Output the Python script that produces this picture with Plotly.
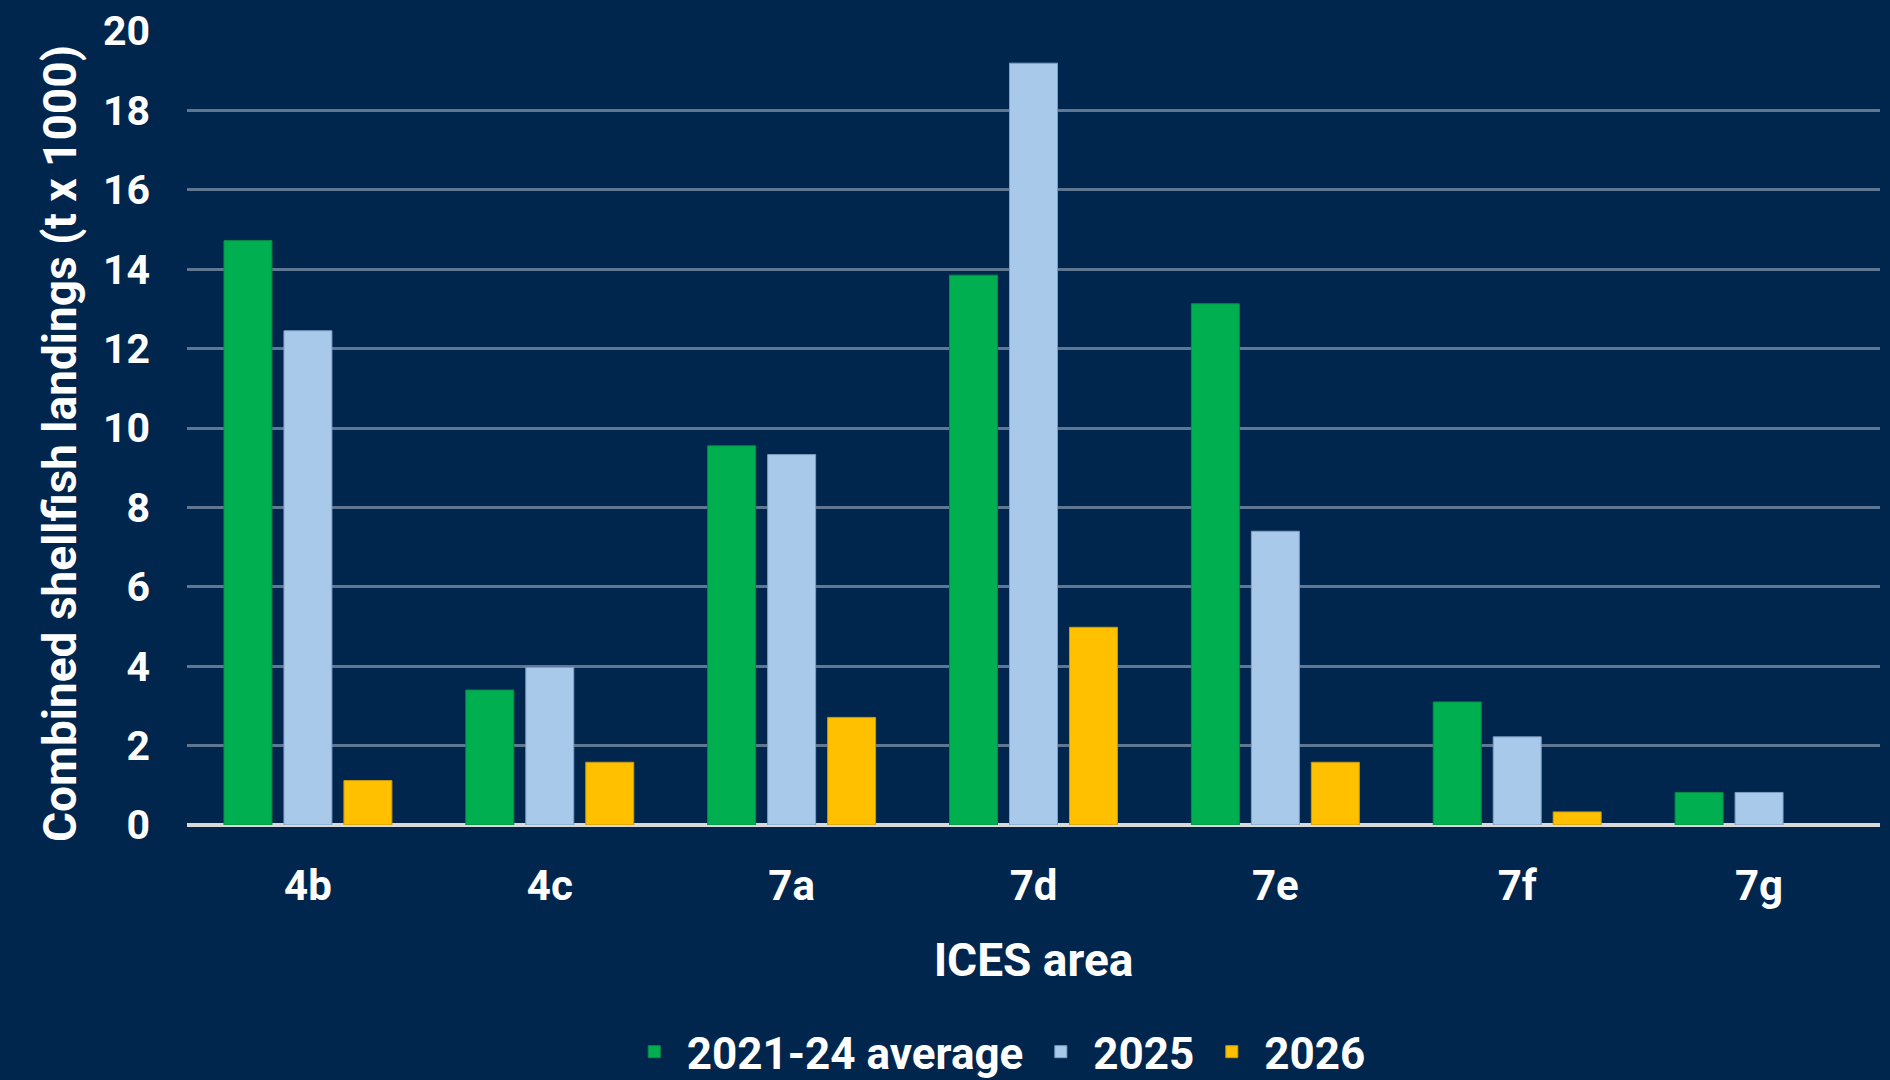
import plotly.graph_objects as go

categories = ["4b", "4c", "7a", "7d", "7e", "7f", "7g"]
avg_2021_24 = [14.72, 3.40, 9.55, 13.85, 13.13, 3.10, 0.82]
y2025 = [12.45, 3.97, 9.33, 19.19, 7.40, 2.22, 0.82]
y2026 = [1.12, 1.58, 2.71, 4.98, 1.58, 0.33, 0]
series_names = ["2021-24 average", "2025", "2026"]
y_ticks = [0, 2, 4, 6, 8, 10, 12, 14, 16, 18, 20]

BG = "#00264D"
FONT = "Roboto"
colors = ["#00B050", "#A9C9EB", "#FFC000"]
borders = ["#0A8A45", "#7F9EC2", "#C99A10"]

fig = go.Figure()
for name, vals, c, b in zip(series_names, [avg_2021_24, y2025, y2026], colors, borders):
    fig.add_trace(go.Bar(
        x=categories, y=vals, name=name,
        marker=dict(color=c, line=dict(color=b, width=[1 if v > 0 else 0 for v in vals])),
    ))

fig.update_layout(
    width=1890, height=1080,
    paper_bgcolor=BG, plot_bgcolor=BG,
    barmode="group", bargap=0.256, bargroupgap=0.2,
    margin=dict(l=187, r=10, t=31, b=255, autoexpand=False),
    font=dict(family=FONT, color="white", size=40),
    showlegend=True,
    legend=dict(
        orientation="h", x=0.478, xanchor="center", xref="paper",
        y=-0.286, yanchor="middle",
        font=dict(family=FONT, size=44, color="white", weight="bold"),
        traceorder="normal", itemwidth=55,
    ),
    xaxis=dict(
        title=dict(text="ICES area", font=dict(family=FONT, size=46, color="white", weight="bold"), standoff=34),
        tickfont=dict(family=FONT, size=42, color="white", weight="bold"),
        showgrid=False, showline=False, ticks="", ticklabelstandoff=32,
    ),
    yaxis=dict(
        tickfont=dict(family=FONT, size=41, color="white", weight="bold"),
        range=[0, 20], tickvals=y_ticks,
        showgrid=True, gridcolor="rgba(190,200,215,0.5)", gridwidth=3,
        zeroline=True, zerolinecolor="#D9D9D9", zerolinewidth=4,
        ticks="", ticklabelstandoff=36, fixedrange=True,
    ),
    annotations=[dict(
        text="Combined shellfish landings (t x 1000)",
        xref="paper", yref="paper", x=0, y=0.5,
        xanchor="center", yanchor="middle", xshift=-127, yshift=-16,
        textangle=-90, showarrow=False,
        font=dict(family=FONT, size=46, color="white", weight="bold"),
    )],
)

fig.write_html(
    "out.html",
    config={"displayModeBar": False},
    post_script="document.body.style.margin='0';document.body.style.padding='0';document.body.style.background='" + BG + "';",
)
